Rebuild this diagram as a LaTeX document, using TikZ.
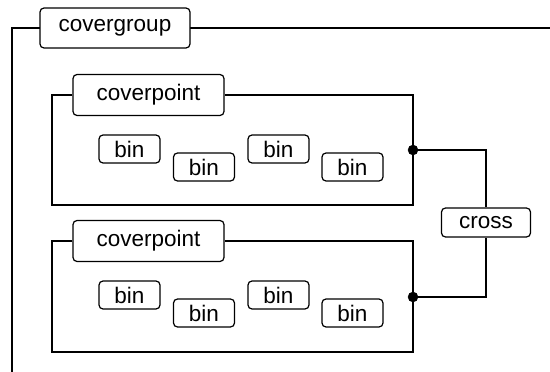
\documentclass[tikz,border=0pt]{standalone}
\usepackage{fontspec}
\setmainfont{Liberation Sans}
\usepackage{tikz}
\usetikzlibrary{calc}

\tikzset{
	label box/.style={draw=black, line width=1.2pt, rounded corners=4pt, fill=white, inner sep=0pt, font=\fontsize{22.5}{27}\selectfont},
	group box/.style={label box, minimum width=150pt, minimum height=40pt},
	point box/.style={label box, minimum width=151pt, minimum height=41pt},
	bin box/.style={label box, minimum width=61pt, minimum height=28pt},
	cross box/.style={label box, minimum width=89pt, minimum height=29pt},
	frame/.style={draw=black, line width=2pt},
	joint/.style={circle, fill=black, draw=black, inner sep=0pt, minimum size=10pt}
}

\begin{document}
\begin{tikzpicture}[x=10pt, y=10pt]

	\useasboundingbox (0,0) rectangle (55,-37.2);

	% covergroup
	\coordinate (cg_ende) at (1.2,-37.5);
	\coordinate (cg_start) at (1.2,-2.8);
	\coordinate (cg_rechts) at (55.5,-2.8);

	\draw[frame] (cg_ende) -- (cg_start) -- (11.5,-2.8);
	\draw[frame] (11.5,-2.8) -- (cg_rechts);
	\node[group box](cg) at (11.5,-2.8) {covergroup};

	% erster coverpoint
	\coordinate (a_tl) at (5.2,-9.5);
	\coordinate (a_bl) at (5.2,-20.5);
	\coordinate (a_br) at (41.3,-20.5);
	\coordinate (a_tr) at (41.3,-9.5);

	\node[point box](cpa) at (14.85,-9.5) {coverpoint};
	\draw[frame] (cpa.west) -- (a_tl) -- (a_bl) -- (a_br) -- (a_tr) -- (cpa.east);

	\node[bin box](a1) at (12.95,-14.9) {bin};
	\node[bin box](a2) at (20.4,-16.7) {bin};
	\node[bin box](a3) at (27.85,-14.9) {bin};
	\node[bin box](a4) at (35.25,-16.7) {bin};

	% zweiter coverpoint
	\coordinate (b_tl) at (5.2,-24.1);
	\coordinate (b_bl) at (5.2,-35.2);
	\coordinate (b_br) at (41.3,-35.2);
	\coordinate (b_tr) at (41.3,-24.1);

	\node[point box](cpb) at (14.85,-24.1) {coverpoint};
	\draw[frame] (cpb.west) -- (b_tl) -- (b_bl) -- (b_br) -- (b_tr) -- (cpb.east);

	\node[bin box](b1) at (12.95,-29.5) {bin};
	\node[bin box](b2) at (20.4,-31.3) {bin};
	\node[bin box](b3) at (27.85,-29.5) {bin};
	\node[bin box](b4) at (35.25,-31.3) {bin};

	% cross
	\node[cross box](cross) at (48.6,-22.25) {cross};

	\coordinate (ja) at (41.3,-15.0);
	\coordinate (jb) at (41.3,-29.7);

	\draw[frame] (ja) -| (cross.north);
	\draw[frame] (jb) -| (cross.south);

	% Verbindungspunkte
	\node[joint](dot_a) at (ja) {};
	\node[joint](dot_b) at (jb) {};

\end{tikzpicture}
\end{document}
